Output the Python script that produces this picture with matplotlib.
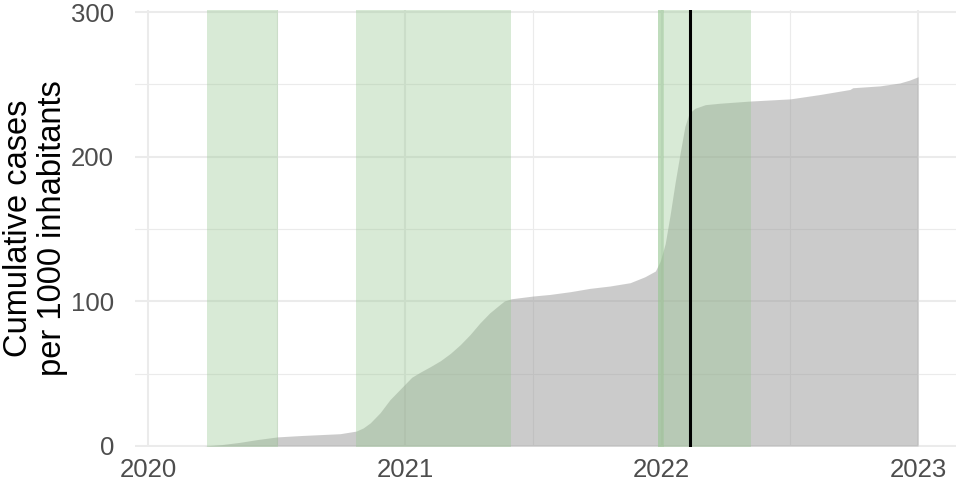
import numpy as np
import matplotlib
matplotlib.use("Agg")
import matplotlib.pyplot as plt

plt.rcParams['font.family'] = ['Liberation Sans', 'DejaVu Sans']

# ---- data ----
dates = ["2020-01-01", "2020-03-20", "2020-04-15", "2020-05-10", "2020-06-05",
         "2020-07-03", "2020-08-04", "2020-09-30", "2020-10-23", "2020-11-02",
         "2020-11-12", "2020-11-26", "2020-12-10", "2020-12-22", "2021-01-01",
         "2021-01-10", "2021-01-22", "2021-02-06", "2021-02-20", "2021-03-06",
         "2021-03-20", "2021-04-03", "2021-04-17", "2021-05-01", "2021-05-16",
         "2021-05-22", "2021-06-01", "2021-07-02", "2021-07-26",
         "2021-08-24", "2021-09-21", "2021-10-19", "2021-11-17", "2021-12-08",
         "2021-12-23", "2021-12-30", "2022-01-06", "2022-01-13", "2022-01-20",
         "2022-01-27", "2022-02-03", "2022-02-09", "2022-02-17", "2022-03-04",
         "2022-03-25", "2022-05-07", "2022-07-03", "2022-08-14", "2022-09-26",
         "2022-09-30", "2022-11-08", "2022-12-06", "2022-12-20", "2023-01-01"]
cum_cases = [0, 0, 1, 2.5, 4.5,
             6.3, 7.2, 8.5, 10.3, 12.5,
             16, 23, 32, 38, 43,
             47.5, 51, 55, 59, 64,
             70, 77, 85, 92, 98,
             100.3, 101.8, 103.7, 104.8,
             106.7, 109, 110.6, 112.9, 117,
             121, 128, 140, 160, 182,
             202, 221, 230, 233.4, 236,
             237, 238.5, 240, 243, 246.5,
             247.7, 249, 251, 253, 255.3]

period_start = ["2020-03-25", "2020-10-23", "2021-12-26", "2021-12-26"]
period_end = ["2020-07-03", "2021-06-01", "2022-05-08", "2022-01-04"]

event_date = "2022-02-10"

y_ticks = [0, 100, 200, 300]
x_tick_years = ["2020-01-01", "2021-01-01", "2022-01-01", "2023-01-01"]
x_tick_labels = ["2020", "2021", "2022", "2023"]

# ---- plot ----
x = np.array(dates, dtype="datetime64[D]")
y = np.array(cum_cases)

fig = plt.figure(figsize=(9.56, 4.82), dpi=100)
ax = fig.add_axes([0.1412, 0.0726, 0.8588, 0.9065])

ax.fill_between(x, 0, y, color="#999999", alpha=0.5, linewidth=0, zorder=2)

for s, e in zip(period_start, period_end):
    ax.axvspan(np.datetime64(s), np.datetime64(e), color="#96C690",
               alpha=0.37, linewidth=0, zorder=3)

ax.axvline(np.datetime64(event_date), color="black", linewidth=2.2, zorder=4)

ax.set_xlim(np.datetime64("2019-12-13"), np.datetime64("2023-02-24"))
ax.set_ylim(-0.7, 301.4)

ax.set_yticks(y_ticks)
ax.set_yticks([50, 150, 250], minor=True)
ax.set_xticks(np.array(x_tick_years, dtype="datetime64[D]"))
ax.set_xticklabels(x_tick_labels)
ax.set_xticks(np.array(["2020-07-02", "2021-07-02", "2022-07-02"],
                       dtype="datetime64[D]"), minor=True)

ax.grid(which="major", color="#EBEBEB", linewidth=1.5)
ax.grid(which="minor", color="#EBEBEB", linewidth=0.8)
ax.set_axisbelow(True)

for sp in ax.spines.values():
    sp.set_visible(False)
ax.tick_params(which="both", length=0)
ax.tick_params(axis="y", labelsize=18.5, labelcolor="#4D4D4D", pad=15)
ax.tick_params(axis="x", labelsize=18.5, labelcolor="#4D4D4D", pad=8)

ax.set_ylabel("Cumulative cases\nper 1000 inhabitants", fontsize=23.5,
              color="black", linespacing=1.15, labelpad=2)

fig.savefig("out.png", dpi=100)
